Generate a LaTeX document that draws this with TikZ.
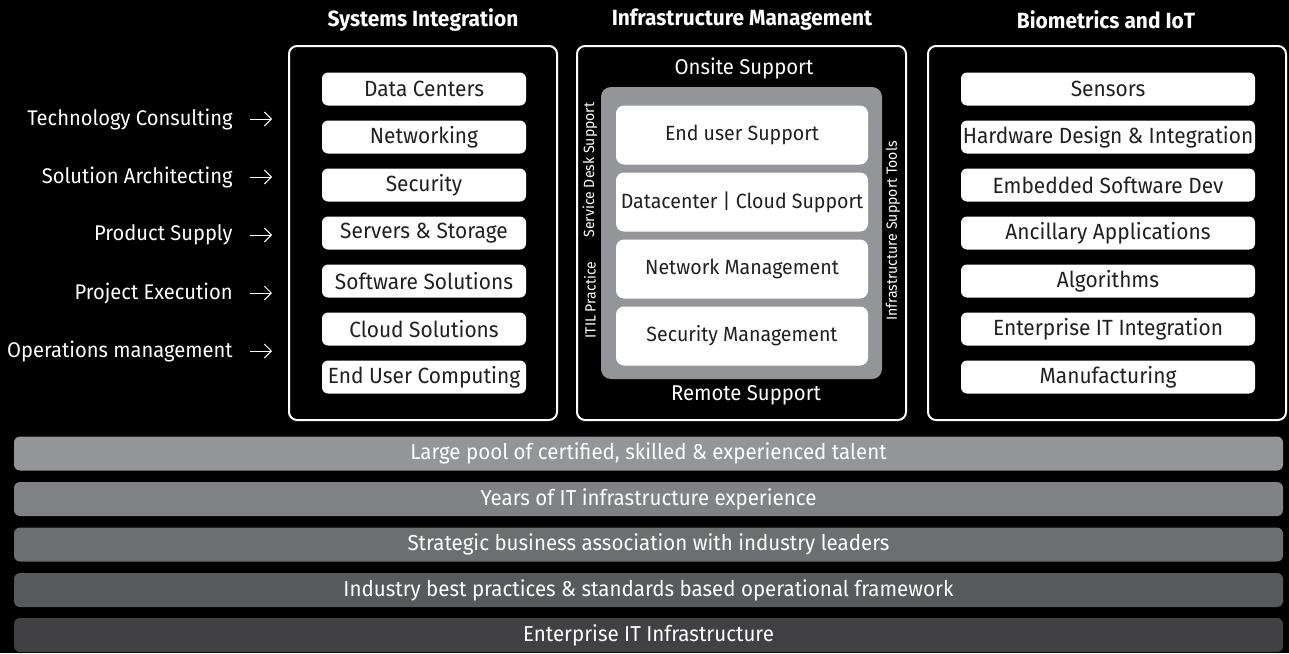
\documentclass[tikz,border=0pt]{standalone}
\usepackage{fontspec}
\setmainfont{Fira Sans}[FakeStretch=0.95]
\usetikzlibrary{positioning,arrows.meta}

\definecolor{ink}{HTML}{231F20}
\definecolor{core}{HTML}{939598}
\definecolor{layA}{HTML}{939598}
\definecolor{layB}{HTML}{808285}
\definecolor{layC}{HTML}{6D6E71}
\definecolor{layD}{HTML}{58595B}
\definecolor{layE}{HTML}{414042}

\tikzset{
  frame/.style={draw=white, line width=1pt, fill=black, rounded corners=4pt, inner sep=0pt},
  item/.style={fill=white, rounded corners=3pt, inner sep=0pt, text=ink,
    minimum width=102pt, minimum height=16.5pt, font=\fontsize{11}{13}\selectfont},
  wide/.style={item, minimum width=147pt},
  mgmt/.style={item, minimum width=126pt, minimum height=29.5pt, rounded corners=4pt,
    font=\fontsize{10.3}{12}\selectfont},
  head/.style={text=white, font=\fontsize{11}{13}\selectfont\bfseries},
  lbl/.style={text=white, inner sep=0pt, font=\fontsize{10.6}{13}\selectfont},
  edge/.style={text=white, font=\fontsize{10.7}{13}\selectfont},
  side/.style={text=white, rotate=90, font=\fontsize{7.4}{9}\selectfont},
  layer/.style={rounded corners=3pt, inner sep=0pt, text=white,
    minimum width=634.5pt, minimum height=17pt, font=\fontsize{10.8}{13}\selectfont},
  arr/.style={white, line width=0.5pt, -{Straight Barb[length=3.5pt,width=7pt]}}
}

\begin{document}
\begin{tikzpicture}[x=0.5pt,y=-0.5pt]

\fill [black] (0,0) rectangle (1289,653);
\useasboundingbox (0,0) rectangle (1289,653);

% column headers
\node [head] (hSI) at (423,20)  {Systems Integration};
\node [head] (hIM) at (742,20)  {Infrastructure Management};
\node [head] (hBI) at (1106,20) {Biometrics and IoT};

% frames
\node [frame, minimum width=134pt, minimum height=187pt] (fSI) at (423,233)  {};
\node [frame, minimum width=164.5pt, minimum height=187pt] (fIM) at (741.5,233) {};
\node [frame, minimum width=179pt, minimum height=187pt] (fBI) at (1107,233) {};

% systems integration
\foreach \t [count=\i] in {Data Centers, Networking, Security, Servers \& Storage,
    Software Solutions, Cloud Solutions, End User Computing}
    \node [item] (si\i) at (424, 41+48*\i) {\t};

% services on the left
\foreach \t [count=\i] in {Technology Consulting, Solution Architecting, Product Supply,
    Project Execution, Operations management}
{
    \node [lbl, anchor=east] (sv\i) at (233, 61+58*\i) {\t};
    \draw [arr] ([xshift=8.5pt]sv\i.east) -- ++(22,0);
}

% infrastructure management
\node [edge] (onsite) at (744,68)  {Onsite Support};
\node [edge] (remote) at (746,395) {Remote Support};
\fill [core, rounded corners=5pt] (601,87) rectangle (882,379);
\foreach \t [count=\i] in {End user Support, Datacenter | Cloud Support,
    Network Management, Security Management}
    \node [mgmt] (im\i) at (742, 68+67*\i) {\t};
\node [side] (desk) at (590,170) {Service Desk Support};
\node [side] (itil) at (590,300) {ITIL Practice};
\node [side] (tools) at (893,231) {Infrastructure Support Tools};

% biometrics and iot
\foreach \t [count=\i] in {Sensors, Hardware Design \& Integration, Embedded Software Dev,
    Ancillary Applications, Algorithms, Enterprise IT Integration, Manufacturing}
    \node [wide] (bi\i) at (1108, 41+48*\i) {\t};

% foundation layers
\node [layer, fill=layA] (l1) at (648.5,453.5) {Large pool of certified, skilled \& experienced talent};
\node [layer, fill=layB] (l2) at (648.5,499)   {Years of IT infrastructure experience};
\node [layer, fill=layC] (l3) at (648.5,544.5) {Strategic business association with industry leaders};
\node [layer, fill=layD] (l4) at (648.5,590)   {Industry best practices \& standards based operational framework};
\node [layer, fill=layE] (l5) at (648.5,635)   {Enterprise IT Infrastructure};

\end{tikzpicture}
\end{document}
